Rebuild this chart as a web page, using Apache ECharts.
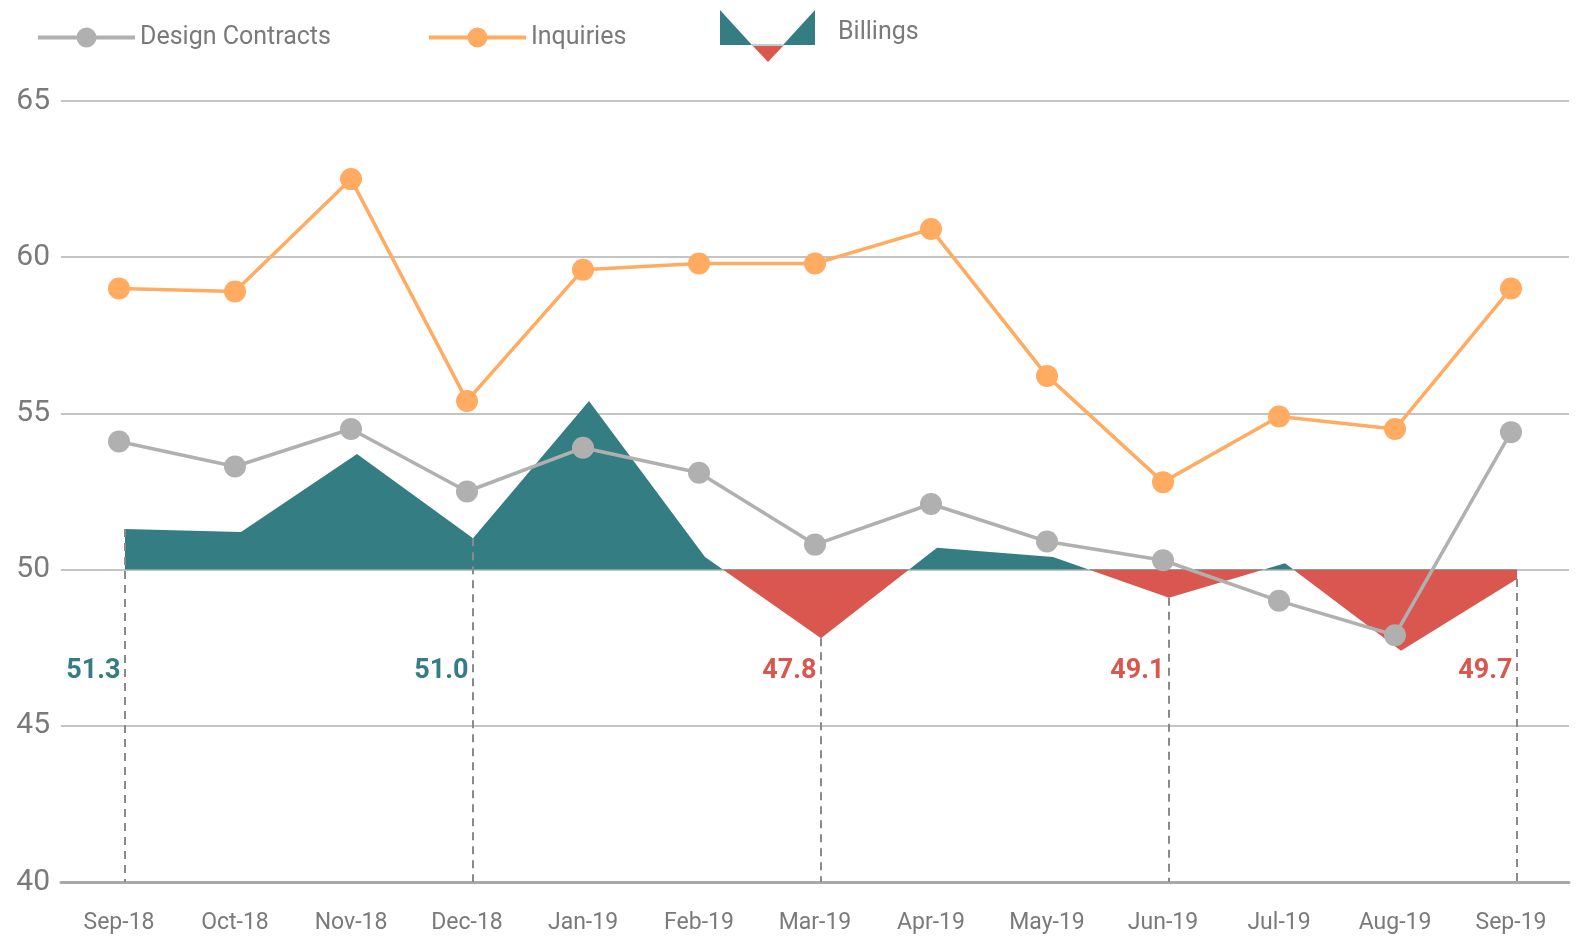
<!DOCTYPE html>
<html>
<head>
<meta charset="utf-8">
<style>
  html, body { margin: 0; padding: 0; background: #fff; }
  #chart { width: 1579px; height: 947px; }
</style>
<script src="https://cdn.jsdelivr.net/npm/echarts@6/dist/echarts.min.js"></script>
</head>
<body>
<div id="chart"></div>
<script>
  const MONTHS = ['Sep-18', 'Oct-18', 'Nov-18', 'Dec-18', 'Jan-19', 'Feb-19', 'Mar-19',
    'Apr-19', 'May-19', 'Jun-19', 'Jul-19', 'Aug-19', 'Sep-19'];
  const DESIGN = [54.1, 53.3, 54.5, 52.5, 53.9, 53.1, 50.8, 52.1, 50.9, 50.3, 49.0, 47.9, 54.4];
  const INQUIRIES = [59.0, 58.9, 62.5, 55.4, 59.6, 59.8, 59.8, 60.9, 56.2, 52.8, 54.9, 54.5, 59.0];
  const BILLINGS = [51.3, 51.2, 53.7, 51.0, 55.4, 50.4, 47.8, 50.7, 50.4, 49.1, 50.2, 47.4, 49.7];
  const LABELLED = [0, 3, 6, 9, 12];   // months with a dashed line + value label
  const Y_TICKS = [40, 45, 50, 55, 60, 65];
  const BASE = 50;                     // billings above/below this line

  const TEAL = '#347e83';
  const RED = '#d9574f';
  const GREY = '#b0b0b0';
  const ORANGE = '#ffab62';
  const TXT = '#7a7a7a';
  const FONT = 'Roboto, sans-serif';
  const LABEL_Y = 46.75;

  const YMIN = Y_TICKS[0], YMAX = Y_TICKS[Y_TICKS.length - 1];

  // billings are plotted relative to 50 on a hidden axis so the area fills from the 50 line
  const billDiff = BILLINGS.map(v => +(v - BASE).toFixed(2));

  let chart = echarts.init(document.getElementById('chart'));

  let option = {
    backgroundColor: '#fff',
    animation: false,
    textStyle: { fontFamily: FONT },
    legend: {
      data: ['Design Contracts', 'Inquiries'],
      left: 31,
      top: 20,
      itemWidth: 97,
      itemHeight: 25,
      itemGap: 96,
      lineStyle: { width: 4 },
      textStyle: { color: TXT, fontSize: 25, fontFamily: FONT }
    },
    graphic: [
      { type: 'polygon', shape: { points: [[720, 10], [720, 45], [752, 45]] }, style: { fill: TEAL } },
      { type: 'polygon', shape: { points: [[783, 45], [815, 45], [815, 10]] }, style: { fill: TEAL } },
      { type: 'polygon', shape: { points: [[752, 45], [784, 45], [768, 62]] }, style: { fill: RED } },
      { type: 'line', shape: { x1: 752, y1: 45, x2: 784, y2: 45 }, style: { stroke: '#b9cfd0', lineWidth: 2 } },
      { type: 'text', left: 838, top: 20, style: { text: 'Billings', fill: TXT, fontSize: 25, fontFamily: FONT } }
    ],
    visualMap: {
      show: false,
      type: 'piecewise',
      seriesIndex: 2,
      dimension: 1,
      pieces: [
        { min: YMIN - BASE, max: 0, color: RED },
        { min: 0, max: YMAX - BASE, color: TEAL }
      ]
    },
    grid: [
      { left: 61, right: 10, top: 101, bottom: 65 },
      { left: 67, right: 4, top: 101, bottom: 65 }
    ],
    xAxis: [
      {
        type: 'category',
        gridIndex: 0,
        data: MONTHS,
        boundaryGap: true,
        axisLine: { show: true, lineStyle: { color: '#a8a8a8', width: 3 } },
        axisTick: { show: false },
        axisLabel: { color: TXT, fontSize: 23, margin: 30, fontFamily: FONT }
      },
      {
        type: 'category',
        gridIndex: 1,
        data: MONTHS,
        boundaryGap: true,
        show: false
      }
    ],
    yAxis: [
      {
        type: 'value',
        gridIndex: 0,
        min: YMIN,
        max: YMAX,
        interval: 5,
        axisLine: { show: false },
        axisTick: { show: false },
        axisLabel: { color: TXT, fontSize: 30, margin: 11, fontFamily: FONT },
        splitLine: { lineStyle: { color: '#c4c4c4', width: 2 } }
      },
      {
        type: 'value',
        gridIndex: 1,
        min: YMIN - BASE,
        max: YMAX - BASE,
        interval: 5,
        show: false,
        splitLine: { show: false }
      }
    ],
    series: [
      {
        name: 'Design Contracts',
        type: 'line',
        xAxisIndex: 0,
        yAxisIndex: 0,
        data: DESIGN,
        symbol: 'circle',
        symbolSize: 22,
        z: 4,
        itemStyle: { color: GREY },
        lineStyle: { color: GREY, width: 3.5 }
      },
      {
        name: 'Inquiries',
        type: 'line',
        xAxisIndex: 0,
        yAxisIndex: 0,
        data: INQUIRIES,
        symbol: 'circle',
        symbolSize: 22,
        z: 4,
        itemStyle: { color: ORANGE },
        lineStyle: { color: ORANGE, width: 3.5 }
      },
      {
        name: 'Billings',
        type: 'line',
        xAxisIndex: 1,
        yAxisIndex: 1,
        data: billDiff,
        symbol: 'none',
        z: 2,
        lineStyle: { width: 0 },
        areaStyle: { opacity: 1 },
        markLine: {
          silent: true,
          symbol: 'none',
          label: { show: false },
          lineStyle: { color: '#8a8a8a', type: [8, 6], width: 2 },
          data: LABELLED.map(i => [
            { coord: [i, billDiff[i]] },
            { coord: [i, YMIN - BASE] }
          ])
        }
      },
      {
        name: 'Billing labels',
        type: 'scatter',
        xAxisIndex: 1,
        yAxisIndex: 1,
        symbolSize: 1,
        silent: true,
        itemStyle: { color: 'rgba(0,0,0,0)', opacity: 1 },
        z: 5,
        data: LABELLED.map(i => ({
          value: [i, LABEL_Y - BASE],
          label: {
            show: true,
            position: 'left',
            distance: 4,
            formatter: BILLINGS[i].toFixed(1),
            color: BILLINGS[i] < BASE ? RED : TEAL,
            fontSize: 27,
            fontWeight: 'bold',
            fontFamily: FONT
          }
        }))
      }
    ]
  };

  chart.setOption(option);
</script>
</body>
</html>
